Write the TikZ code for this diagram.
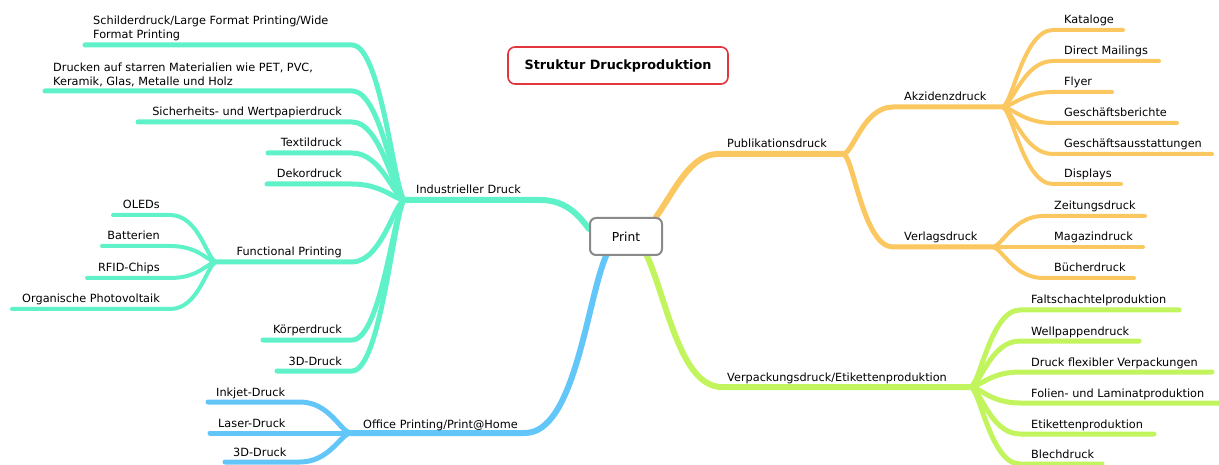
\documentclass[tikz,border=0pt]{standalone}
\usepackage{fontspec}
\setmainfont{DejaVu Sans}
\usetikzlibrary{backgrounds}
\definecolor{mint}{HTML}{5FF2C8}
\definecolor{sky}{HTML}{62C6F8}
\definecolor{gold}{HTML}{FBC760}
\definecolor{lime}{HTML}{C2F45E}
\definecolor{titlered}{HTML}{E2353D}
\definecolor{boxgray}{HTML}{8A8A8A}

% control distances: near the hub / near the leaf
\def\hubc{10}
\def\leafc{30}
% right-going leaf: name, parent, xstart, xend, y, text, line style
\newcommand\leafR[7]{%
  \coordinate (#1-a) at (#3,#5);
  \coordinate (#1-b) at (#4,#5);
  \node[lbl,anchor=base west] (#1) at ([xshift=11pt,yshift=6pt]#1-a) {#6};
  \begin{scope}[on background layer]
    \draw[#7] (#2) .. controls +(\hubc,0) and +(-\leafc,0) .. (#1-a) -- (#1-b);
  \end{scope}}
% left-going leaf, text right aligned: name, parent, xleft, xright, y, text, style
\newcommand\leafL[7]{%
  \coordinate (#1-a) at (#3,#5);
  \coordinate (#1-b) at (#4,#5);
  \node[lbl,anchor=base east] (#1) at ([xshift=-10pt,yshift=6pt]#1-b) {#6};
  \begin{scope}[on background layer]
    \draw[#7] (#2) .. controls +(-\hubc,0) and +(\leafc,0) .. (#1-b) -- (#1-a);
  \end{scope}}
% left-going leaf, text left aligned
\newcommand\leafLw[7]{%
  \coordinate (#1-a) at (#3,#5);
  \coordinate (#1-b) at (#4,#5);
  \node[lbl,anchor=base west] (#1) at ([xshift=8pt,yshift=6pt]#1-a) {#6};
  \begin{scope}[on background layer]
    \draw[#7] (#2) .. controls +(-\hubc,0) and +(\leafc,0) .. (#1-b) -- (#1-a);
  \end{scope}}

\begin{document}
\begin{tikzpicture}[x=1pt,y=-1pt,
  lbl/.style={inner sep=0pt,font=\fontsize{11.3}{14.5}\selectfont},
  br/.style={line cap=round,line join=round},
  lvA/.style={br,line width=6pt},
  lvB/.style={br,line width=5pt},
  lvC/.style={br,line width=4pt},
  rootbox/.style={draw=boxgray,line width=2pt,rounded corners=6pt,fill=white,
    minimum width=72pt,minimum height=37pt,inner sep=0pt,
    font=\fontsize{12.3}{14}\selectfont},
  titlebox/.style={draw=titlered,line width=1.6pt,rounded corners=7pt,fill=white,
    minimum width=220pt,minimum height=37pt,inner sep=0pt,
    font=\bfseries\fontsize{12.8}{14}\selectfont}]
\useasboundingbox (0,0) rectangle (1219,465);

\node[titlebox] (title) at (618,65.5) {Struktur Druckproduktion};
\node[rootbox] (print) at (626,236.5) {Print};

% ---------- Industrieller Druck (mint) ----------
\coordinate (ind) at (405,200);
\coordinate (ind-e) at (540,200);
\node[lbl,anchor=base west] (indT) at (416,194) {Industrieller Druck};
\begin{scope}[on background layer]
  \draw[lvA,mint] (ind) -- (ind-e) .. controls (565,200) and (578,214) .. (print.west |- 0,229);
\end{scope}

% two-line leaves
\coordinate (schild-a) at (85,45);
\coordinate (schild-b) at (352,45);
\node[lbl,anchor=south west,align=left,text depth=0pt] (schild) at (93,39)
  {Schilderdruck/Large Format Printing/Wide\\Format Printing};
\coordinate (starr-a) at (45,91);
\coordinate (starr-b) at (352,91);
\node[lbl,anchor=south west,align=left,text depth=0pt] (starr) at (53,86)
  {Drucken auf starren Materialien wie PET, PVC,\\Keramik, Glas, Metalle und Holz};
\begin{scope}[on background layer]
  \draw[lvB,mint] (ind) .. controls +(-\hubc,0) and +(\leafc,0) .. (schild-b) -- (schild-a);
  \draw[lvB,mint] (ind) .. controls +(-\hubc,0) and +(\leafc,0) .. (starr-b) -- (starr-a);
\end{scope}
\leafL{sicher}{ind}{138}{352}{122}{Sicherheits- und Wertpapierdruck}{lvB,mint}
\leafL{textil}{ind}{268}{352}{153}{Textildruck}{lvB,mint}
\leafL{dekor}{ind}{267}{352}{184}{Dekordruck}{lvB,mint}

% Functional Printing
\coordinate (func) at (217,262);
\coordinate (func-b) at (352,262);
\node[lbl,anchor=base east] (funcT) at (342,256) {Functional Printing};
\begin{scope}[on background layer]
  \draw[lvB,mint] (ind) .. controls +(-\hubc,0) and +(\leafc,0) .. (func-b) -- (func);
\end{scope}
\leafL{oled}{func}{113}{170}{215}{OLEDs}{lvC,mint}
\leafL{batt}{func}{102}{170}{246}{Batterien}{lvC,mint}
\leafL{rfid}{func}{87}{170}{278}{RFID-Chips}{lvC,mint}
\leafL{orga}{func}{12}{170}{309}{Organische Photovoltaik}{lvC,mint}

\leafL{koerper}{ind}{263}{352}{340}{Körperdruck}{lvB,mint}
\leafL{ddrei}{ind}{277}{352}{371}{3D-Druck}{lvB,mint}

% ---------- Office Printing (sky) ----------
\coordinate (off) at (351,433);
\coordinate (off-e) at (525,433);
\node[lbl,anchor=base west] (offT) at (363,428) {Office Printing/Print@Home};
\begin{scope}[on background layer]
  \draw[lvA,sky] (off) -- (off-e) .. controls (575,433) and (587,300) .. (print.south -| 606,0);
\end{scope}
\leafLw{inkjet}{off}{208}{300}{402}{Inkjet-Druck}{lvB,sky}
\leafLw{laser}{off}{210}{300}{433}{Laser-Druck}{lvB,sky}
\leafLw{odrei}{off}{225}{300}{462}{3D-Druck}{lvB,sky}

% ---------- Publikationsdruck (gold) ----------
\coordinate (pub) at (843,154);
\coordinate (pub-s) at (718,154);
\node[lbl,anchor=base west] (pubT) at (727,148) {Publikationsdruck};
\begin{scope}[on background layer]
  \draw[lvA,gold] (print.north -| 656,0) .. controls (674,192) and (690,154) .. (pub-s) -- (pub);
\end{scope}
\coordinate (akz) at (1002,107);
\coordinate (akz-s) at (893,107);
\node[lbl,anchor=base west] (akzT) at (904,101) {Akzidenzdruck};
\coordinate (verl) at (992,247);
\coordinate (verl-s) at (893,247);
\node[lbl,anchor=base west] (verlT) at (904,241) {Verlagsdruck};
\begin{scope}[on background layer]
  \draw[lvB,gold] (pub) .. controls +(\hubc,0) and +(-\leafc,0) .. (akz-s) -- (akz);
  \draw[lvB,gold] (pub) .. controls +(\hubc,0) and +(-\leafc,0) .. (verl-s) -- (verl);
\end{scope}
\leafR{kat}{akz}{1053}{1123}{30}{Kataloge}{lvC,gold}
\leafR{dm}{akz}{1053}{1159}{61}{Direct Mailings}{lvC,gold}
\leafR{fly}{akz}{1053}{1112}{92}{Flyer}{lvC,gold}
\leafR{gb}{akz}{1053}{1177}{123}{Geschäftsberichte}{lvC,gold}
\leafR{ga}{akz}{1053}{1212}{154}{Geschäftsausstattungen}{lvC,gold}
\leafR{disp}{akz}{1053}{1121}{184}{Displays}{lvC,gold}
\leafR{zeit}{verl}{1043}{1145}{216}{Zeitungsdruck}{lvC,gold}
\leafR{mag}{verl}{1043}{1143}{247}{Magazindruck}{lvC,gold}
\leafR{buch}{verl}{1043}{1134}{278}{Bücherdruck}{lvC,gold}

% ---------- Verpackungsdruck (lime) ----------
\coordinate (verp) at (970,387);
\coordinate (verp-s) at (722,387);
\node[lbl,anchor=base west] (verpT) at (727,381) {Verpackungsdruck/Etikettenproduktion};
\begin{scope}[on background layer]
  \draw[lvA,lime] (print.south -| 647,0) .. controls (667,300) and (680,387) .. (verp-s) -- (verp);
\end{scope}
\leafR{falt}{verp}{1020}{1179}{310}{Faltschachtelproduktion}{lvB,lime}
\leafR{well}{verp}{1020}{1139}{341}{Wellpappendruck}{lvB,lime}
\leafR{flex}{verp}{1020}{1212}{372}{Druck flexibler Verpackungen}{lvB,lime}
\leafR{fol}{verp}{1020}{1222}{403}{Folien- und Laminatproduktion}{lvB,lime}
\leafR{etik}{verp}{1020}{1154}{434}{Etikettenproduktion}{lvB,lime}
\leafR{blech}{verp}{1020}{1102}{464}{Blechdruck}{lvB,lime}
\end{tikzpicture}
\end{document}
